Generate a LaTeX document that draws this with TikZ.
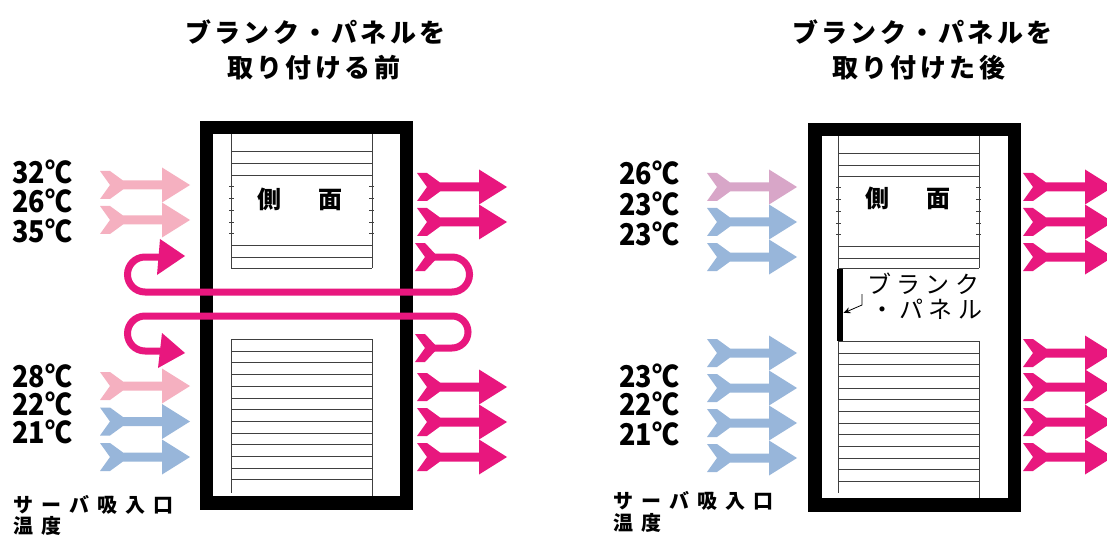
\documentclass[tikz,border=0pt]{standalone}
\usepackage{fontspec}
\usetikzlibrary{arrows.meta}
\newfontfamily\jp{Noto Sans CJK JP}
\newfontfamily\jptitle{Noto Sans CJK JP}[LetterSpace=13]
\newfontfamily\jplab{Noto Sans CJK JP}[LetterSpace=40]
\newfontfamily\jpside{Noto Sans CJK JP}[LetterSpace=28]
\newfontfamily\jpblank{Noto Sans CJK JP}[LetterSpace=22]
\definecolor{hotpink}{HTML}{F5B0C0}
\definecolor{coolblue}{HTML}{98B6DA}
\definecolor{mauve}{HTML}{D8A6C8}
\definecolor{magenta}{HTML}{E8177E}
\tikzset{
  fletch/.pic={\fill[pic actions] (0,-14) -- (10,-14) -- (23,-4.5) -- (62,-4.5) -- (62,-17.5) -- (90,0) -- (62,17.5) -- (62,4.5) -- (23,4.5) -- (10,14) -- (0,14) -- (10,0) -- cycle;},
  frame/.style={draw=black, line width=13.5pt},
  rackline/.style={draw=black!75, line width=0.9pt},
  loopline/.style={draw=magenta, line width=7pt},
  title/.style={anchor=base west, inner sep=0pt, font=\jptitle\bfseries\fontsize{26}{30}\selectfont},
  temp/.style={anchor=base west, inner sep=0pt, font=\jp\bfseries\fontsize{30}{32}\selectfont},
  intake/.style={anchor=base west, inner sep=0pt, font=\jplab\bfseries\fontsize{20}{24}\selectfont},
  side/.style={anchor=center, inner sep=0pt, font=\jpside\bfseries\fontsize{24}{26}\selectfont},
  blanklab/.style={anchor=base west, inner sep=0pt, font=\jpblank\fontsize{24}{26}\selectfont},
}
\newcommand{\degtxt}[1]{\scalebox{0.9}[1]{#1}}
\begin{document}
\begin{tikzpicture}[x=1pt,y=-1pt]
\useasboundingbox (0,0) rectangle (1107,537);
\clip (0,0) rectangle (1107,537);
\fill[white] (0,0) rectangle (1107,537);

% ---------------- LEFT: before ----------------
\node[title] (tl1) at (185,43) {ブランク・パネルを};
\node[title] (tl2) at (227,78) {取り付ける前};

% rack interior lines
\foreach \y in {151,163,175,245,257,268} \draw[rackline] (231,\y) -- (372,\y);
\draw[rackline] (231,134) -- (231,268);
\draw[rackline] (372,134) -- (372,268);
\foreach \y in {186,198,210,222,233} {\draw[rackline] (229,\y) -- (234,\y); \draw[rackline] (369,\y) -- (374,\y);}
\foreach \y in {339,351,362,374,386,398,409,421,433,444,456,468,479} \draw[rackline] (231,\y) -- (372,\y);
\draw[rackline] (231,339) -- (231,493);
\draw[rackline] (372,339) -- (372,497);
\node[side] (sideL) at (300,199) {側　面};

% frame
\draw[frame] (206.5,127.5) rectangle (406.5,503);

% temperatures
\node[temp] (t1) at (12,184) {\degtxt{32℃}};
\node[temp] (t2) at (12,213) {\degtxt{26℃}};
\node[temp] (t3) at (12,242) {\degtxt{35℃}};
\node[temp] (t4) at (12,387) {\degtxt{28℃}};
\node[temp] (t5) at (12,415) {\degtxt{22℃}};
\node[temp] (t6) at (12,443) {\degtxt{21℃}};
\node[intake] (inL1) at (13,512) {サーバ吸入口};
\node[intake] (inL2) at (13,533) {温度};

% intake arrows
\pic[fill=hotpink] at (100,185) {fletch};
\pic[fill=hotpink] at (100,220) {fletch};
\pic[fill=hotpink] at (100,386) {fletch};
\pic[fill=coolblue] at (100,421.5) {fletch};
\pic[fill=coolblue] at (100,457) {fletch};
% exhaust arrows
\foreach \y in {187,222,387,422,457} \pic[fill=magenta] at (417,\y) {fletch};

% recirculation loops
\draw[loopline] (430,257) -- (452,257) arc (-90:90:17.5) -- (145,292) arc (90:270:17.5) -- (162,257);
\fill[magenta] (160,239) -- (185,256) -- (157,275) -- cycle;
\fill[magenta] (415,243) -- (425,243) -- (438,257) -- (425,271) -- (415,271) -- (425,257) -- cycle;
\draw[loopline] (430,348) -- (452,348) arc (90:-90:16) -- (145,316) arc (-90:-270:17.5) -- (162,351);
\fill[magenta] (162,333) -- (185,353) -- (158,368) -- cycle;
\fill[magenta] (415,334) -- (425,334) -- (438,348) -- (425,362) -- (415,362) -- (425,348) -- cycle;

% ---------------- RIGHT: after ----------------
\node[title] (tr1) at (792,43) {ブランク・パネルを};
\node[title] (tr2) at (832,78) {取り付けた後};

\foreach \y in {153,165,176,246,258,268} \draw[rackline] (838,\y) -- (979,\y);
\draw[rackline] (838,136) -- (838,493);
\draw[rackline] (979,136) -- (979,268);
\foreach \y in {187,199,211,223,234} {\draw[rackline] (836,\y) -- (841,\y); \draw[rackline] (976,\y) -- (981,\y);}
\foreach \y in {341,353,364,376,388,399,411,423,434,446,458,469,481} \draw[rackline] (838,\y) -- (979,\y);
\draw[rackline] (979,341) -- (979,498);
\node[side] (sideR) at (908,198) {側　面};

\draw[frame] (815,129.5) rectangle (1014.5,505);

% blank panel
\node[fill=black, inner sep=0pt, minimum width=6.5pt, minimum height=72pt] (blank) at (840,305) {};
\node[blanklab] (bl1) at (867,293) {ブランク};
\node[blanklab] (bl2) at (870,318) {・パネル};
\coordinate (lead) at (862,294);
\draw[line width=0.8pt, -{Stealth[length=7pt,width=6pt]}] (lead) -- ++(0,11) -- (blank.east |- 0,313);

% temperatures
\node[temp] (r1) at (619,185) {\degtxt{26℃}};
\node[temp] (r2) at (619,215) {\degtxt{23℃}};
\node[temp] (r3) at (619,245) {\degtxt{23℃}};
\node[temp] (r4) at (619,387) {\degtxt{23℃}};
\node[temp] (r5) at (619,415) {\degtxt{22℃}};
\node[temp] (r6) at (619,445) {\degtxt{21℃}};
\node[intake] (inR1) at (613,508) {サーバ吸入口};
\node[intake] (inR2) at (613,530) {温度};

\pic[fill=mauve] at (707,187) {fletch};
\foreach \y in {222,257,353,388,423,458} \pic[fill=coolblue] at (707,\y) {fletch};
\foreach \y in {187,222,257,353,387,422,457} \pic[fill=magenta] at (1023,\y) {fletch};
\end{tikzpicture}
\end{document}
